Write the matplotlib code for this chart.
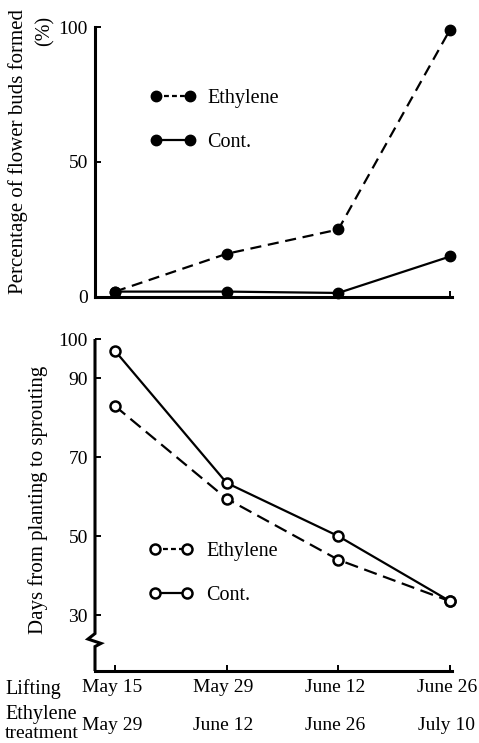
import matplotlib
matplotlib.use("Agg")
import matplotlib.pyplot as plt
from matplotlib.lines import Line2D
import matplotlib.transforms as mtransforms

plt.rcParams['font.family'] = ['Liberation Serif', 'DejaVu Serif']

# ---- data ----
positions = [0, 1, 2, 3]
lifting_labels = ["May 15", "May 29", "June 12", "June 26"]
treatment_labels = ["May 29", "June 12", "June 26", "July 10"]

buds_ethylene = [2, 16, 25, 99]
buds_cont = [2, 2, 1.5, 15]

days_ethylene = [83, 59.5, 44, 33.5]
days_cont = [97, 63.5, 50, 33.5]

top_yticks = [0, 50, 100]
bottom_yticks = [30, 50, 70, 90, 100]

W, H = 479, 743
fig = plt.figure(figsize=(W / 100, H / 100), dpi=100)

FS = 14.5
TFS = 14
XFS = 14
LW = 1.6
SPW = 2.2
XL = (-0.179, 3.018)

ax1 = fig.add_axes([95 / W, 1 - 297 / H, 357 / W, 270 / H])
ax2 = fig.add_axes([95 / W, 1 - 671 / H, 357 / W, 332 / H])

dash_data = (0, (5, 3))
dash_leg = (0, (2.2, 1.4))

# ---- top panel ----
ax1.plot(positions, buds_ethylene, color='black', lw=LW, linestyle=dash_data,
         marker='o', ms=7.5, mfc='black', mec='black', clip_on=False, zorder=3)
ax1.plot(positions, buds_cont, color='black', lw=LW, linestyle='-',
         marker='o', ms=7.5, mfc='black', mec='black', clip_on=False, zorder=3)
ax1.set_xlim(*XL)
ax1.set_ylim(0, 100)
ax1.set_yticks(top_yticks)
ax1.set_xticks(positions)
ax1.set_xticklabels([])

# ---- bottom panel ----
ax2.plot(positions, days_ethylene, color='black', lw=LW, linestyle=(0, (6, 3)),
         marker='o', ms=7.2, mfc='white', mec='black', mew=1.8, clip_on=False, zorder=3)
ax2.plot(positions, days_cont, color='black', lw=LW, linestyle='-',
         marker='o', ms=7.2, mfc='white', mec='black', mew=1.8, clip_on=False, zorder=3)
ax2.set_xlim(*XL)
ax2.set_ylim(15.8, 100)
ax2.set_yticks(bottom_yticks)
ax2.set_xticks(positions)
ax2.set_xticklabels(lifting_labels)

for ax in (ax1, ax2):
    for s in ('top', 'right'):
        ax.spines[s].set_visible(False)
    ax.spines['bottom'].set_linewidth(SPW)
    ax.spines['left'].set_linewidth(SPW)
    ax.tick_params(direction='in', length=4.5, width=1.4, labelsize=TFS, pad=5)
    ax.tick_params(axis='x', pad=5.5, labelsize=XFS)

# shift x tick labels slightly left, as in the reference
shift = mtransforms.ScaledTranslation(-3 / 100, 0, fig.dpi_scale_trans)
for lab in ax2.get_xticklabels():
    lab.set_transform(lab.get_transform() + shift)

# broken left spine in bottom panel
ax2.spines['left'].set_visible(False)
px = 1 / 357.0
tr = mtransforms.blended_transform_factory(ax2.transAxes, ax2.transData)
ax2.plot([0, 0, -7 * px, 6 * px, 0, 0],
         [100, 25.3, 23.9, 22.8, 22.0, 15.8],
         color='black', lw=SPW, transform=tr, clip_on=False,
         solid_joinstyle='miter', solid_capstyle='butt', zorder=4)

# second row of x labels
for p, lab in zip(positions, treatment_labels):
    ax2.annotate(lab, xy=(p, 0), xycoords=('data', 'axes fraction'),
                 xytext=(-3 * 0.72, -55 * 0.72), textcoords='offset points',
                 ha='center', va='center', fontsize=XFS)

fig.text(5 / W, 1 - 694 / H, "Lifting", ha='left', va='baseline', fontsize=FS)
fig.text(5 / W, 1 - 719 / H, "Ethylene", ha='left', va='baseline', fontsize=FS)
fig.text(5 / W, 1 - 738.5 / H, "treatment", ha='left', va='baseline', fontsize=14)

# y labels
fig.text(18 / W, 1 - 152 / H, "Percentage of flower buds formed", rotation=90,
         ha='center', va='center', fontsize=15)
fig.text(45 / W, 1 - 31 / H, "(%)", rotation=90, ha='center', va='center', fontsize=FS)
fig.text(38 / W, 1 - 500 / H, "Days from planting to sprouting", rotation=90,
         ha='center', va='center', fontsize=15)

# legends
h1 = [Line2D([], [], color='black', lw=LW, linestyle=dash_leg, marker='o', ms=7.5,
             mfc='black', mec='black'),
      Line2D([], [], color='black', lw=LW, linestyle='-', marker='o', ms=7.5,
             mfc='black', mec='black')]
fig.legend(h1, ["Ethylene", "Cont."], loc='center left',
           bbox_to_anchor=(150 / W, 1 - 120.5 / H), bbox_transform=fig.transFigure,
           frameon=False, numpoints=2, handlelength=2.3, handletextpad=0.55,
           labelspacing=1.27, borderpad=0, borderaxespad=0, fontsize=FS)

h2 = [Line2D([], [], color='black', lw=LW, linestyle=dash_leg, marker='o', ms=7.2,
             mfc='white', mec='black', mew=1.8),
      Line2D([], [], color='black', lw=LW, linestyle='-', marker='o', ms=7.2,
             mfc='white', mec='black', mew=1.8)]
fig.legend(h2, ["Ethylene", "Cont."], loc='center left',
           bbox_to_anchor=(149 / W, 1 - 573.5 / H), bbox_transform=fig.transFigure,
           frameon=False, numpoints=2, handlelength=2.2, handletextpad=0.65,
           labelspacing=1.27, borderpad=0, borderaxespad=0, fontsize=FS)

fig.savefig("out.png", dpi=100)
